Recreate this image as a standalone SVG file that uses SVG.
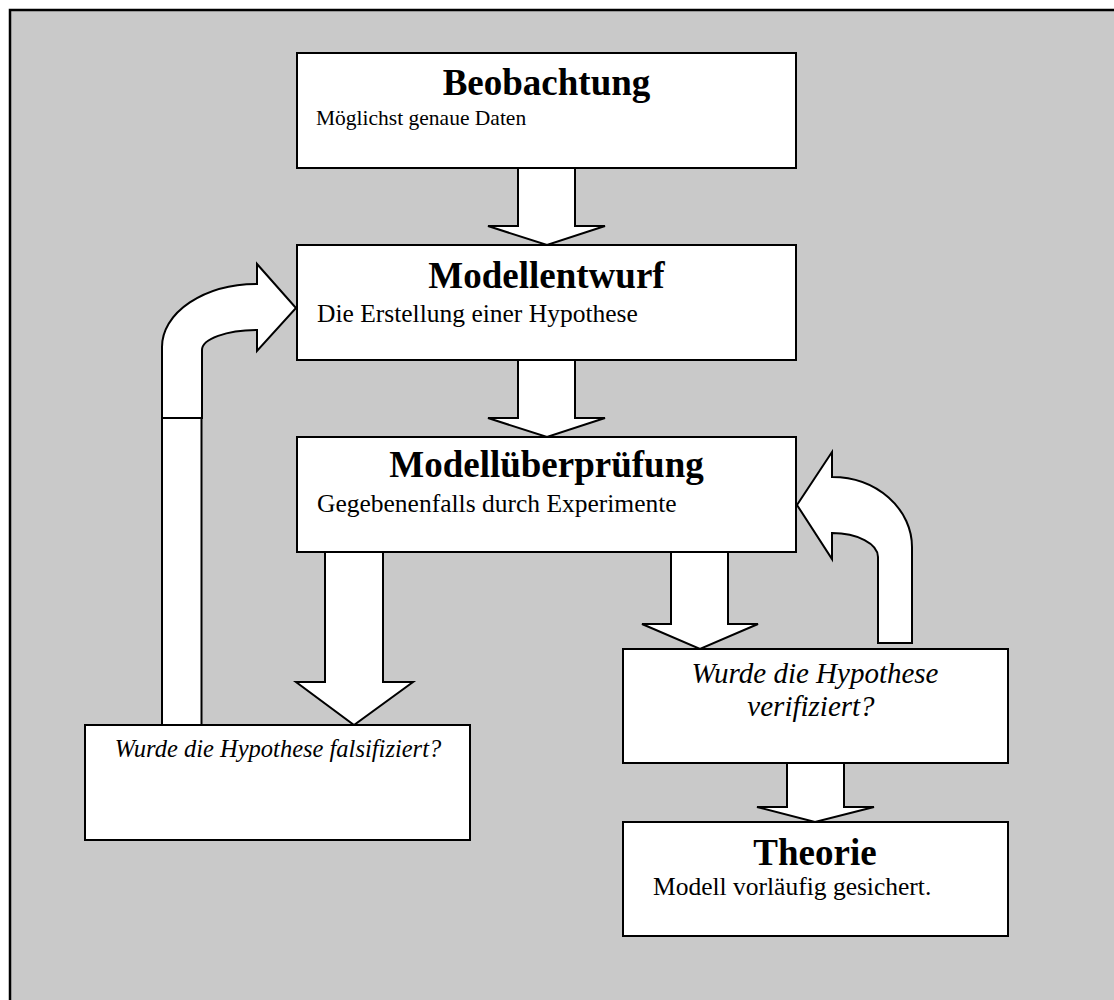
<svg xmlns="http://www.w3.org/2000/svg" width="1114" height="1000" viewBox="0 0 1114 1000">
<style>
.box{fill:#fff;stroke:#000;stroke-width:2}
.arr{fill:#fff;stroke:#000;stroke-width:2;stroke-linejoin:miter}
.t{font-family:"Liberation Serif","Times New Roman",serif;font-weight:bold;font-size:37px;fill:#000;text-anchor:middle}
.s{font-family:"Liberation Serif","Times New Roman",serif;font-size:25.5px;fill:#000}
.i{font-family:"Liberation Serif","Times New Roman",serif;font-style:italic;fill:#000;text-anchor:middle}
</style>
<rect width="1114" height="1000" fill="#fff"/>
<rect x="10" y="10" width="1120" height="1010" fill="#c9c9c9" stroke="#000" stroke-width="2.5"/>
<g id="connectors">
<path class="arr" d="M518,168 L518,226 L488,226 L547,245 L605,226 L575,226 L575,168 Z"/>
<path class="arr" d="M518,360 L518,418 L488,418 L547,437 L605,418 L575,418 L575,360 Z"/>
<path class="arr" d="M325,552 L325,682 L296,682 L354,725 L413,682 L383,682 L383,552 Z"/>
<path class="arr" d="M671,552 L671,624 L642,624 L700,649 L758,624 L728,624 L728,552 Z"/>
<path class="arr" d="M787,763 L787,807 L757,807 L815,822 L874,807 L844,807 L844,763 Z"/>
<rect class="arr" x="162" y="418" width="39.5" height="307"/>
<path class="arr" d="M162,418 L162,347 A95,63 0 0 1 257,284 L257,264 L296,308 L257,351 L257,330 A55,20 0 0 0 202,350 L202,418 Z"/>
<path class="arr" d="M832,477 A80,70 0 0 1 912,547 L912,643 L878,643 L878,557 A46,24 0 0 0 832,533 L832,559 L797,505 L832,452 Z"/>
</g>
<g id="beobachtung">
<rect class="box" x="297" y="53" width="499" height="115"/>
<text class="t" x="546.5" y="95">Beobachtung</text>
<text class="s" x="316" y="125" style="font-size:21.5px">Möglichst genaue Daten</text>
</g>
<g id="modellentwurf">
<rect class="box" x="297" y="245" width="499" height="115"/>
<text class="t" x="546.5" y="288">Modellentwurf</text>
<text class="s" x="317" y="322">Die Erstellung einer Hypothese</text>
</g>
<g id="modellueberpruefung">
<rect class="box" x="297" y="437" width="499" height="115"/>
<text class="t" x="546.5" y="477">Modellüberprüfung</text>
<text class="s" x="317" y="512">Gegebenenfalls durch Experimente</text>
</g>
<g id="falsifiziert">
<rect class="box" x="85" y="725" width="385" height="115"/>
<text class="i" x="278" y="757" style="font-size:24.5px">Wurde die Hypothese falsifiziert?</text>
</g>
<g id="verifiziert">
<rect class="box" x="623" y="649" width="385" height="114"/>
<text class="i" x="815" y="683" style="font-size:29px">Wurde die Hypothese</text>
<text class="i" x="811" y="716" style="font-size:29px">verifiziert?</text>
</g>
<g id="theorie">
<rect class="box" x="623" y="822" width="385" height="114"/>
<text class="t" x="815" y="865">Theorie</text>
<text class="s" x="653" y="895">Modell vorläufig gesichert.</text>
</g>
</svg>
